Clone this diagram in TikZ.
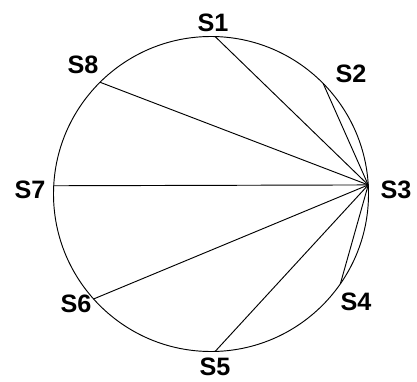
\documentclass[tikz,border=0pt]{standalone}
\usepackage{fontspec}
\setmainfont{Liberation Sans}
\usetikzlibrary{calc}

\begin{document}
\begin{tikzpicture}[x=0.03cm,y=0.03cm,font=\bfseries\fontsize{21.5}{26}\selectfont,every node/.style={inner sep=0pt},chord/.style={line width=0.8pt}]
  \useasboundingbox (0,0) rectangle (417,381);
  \coordinate (c) at (211,187);
  \draw[chord] (c) circle (157.5);
  \coordinate (p1) at ($(c)+(88.5:157.5)$);
  \coordinate (p2) at ($(c)+(44.6:157.5)$);
  \coordinate (p3) at ($(c)+(3.3:157.5)$);
  \coordinate (p4) at ($(c)+(-34.8:157.5)$);
  \coordinate (p5) at ($(c)+(-88.5:157.5)$);
  \coordinate (p6) at ($(c)+(221.8:157.5)$);
  \coordinate (p7) at ($(c)+(177:157.5)$);
  \coordinate (p8) at ($(c)+(134.8:157.5)$);
  \node (s1) at (213,358) {S1};
  \node (s2) at (351,307.5) {S2};
  \node (s3) at (396,191) {S3};
  \node (s4) at (356,79) {S4};
  \node (s5) at (215,14) {S5};
  \node (s6) at (76,77) {S6};
  \node (s7) at (30,191) {S7};
  \node (s8) at (83,316) {S8};
  \draw[chord] (p3)--(p1); \draw[chord] (p3)--(p2);
  \draw[chord] (p3)--(p4); \draw[chord] (p3)--(p5);
  \draw[chord] (p3)--(p6); \draw[chord] (p3)--(p7);
  \draw[chord] (p3)--(p8);
\end{tikzpicture}
\end{document}
